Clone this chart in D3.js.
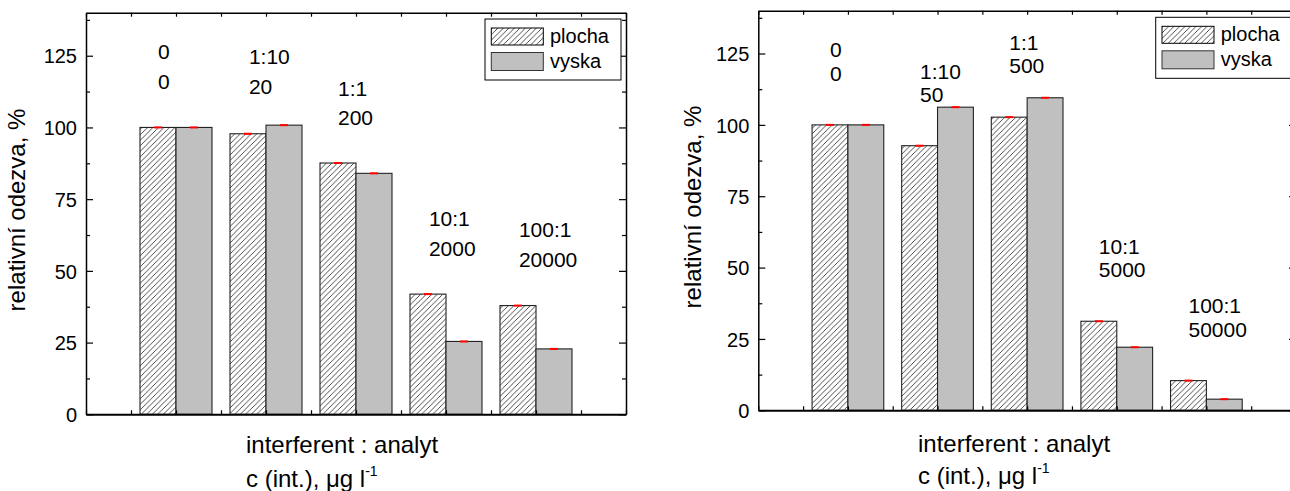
<!DOCTYPE html>
<html><head><meta charset="utf-8">
<script src="https://cdn.jsdelivr.net/npm/d3@7"></script>
<style>body{margin:0;background:#fff}svg{display:block;font-family:Arial,"Liberation Sans",sans-serif}</style>
</head><body><svg id="c" width="1290" height="491"></svg>
<script>
// ---- data ----
const categories = ["0", "1:10", "1:1", "10:1", "100:1"];
const seriesNames = ["plocha", "vyska"];
const concA = ["0", "20", "200", "2000", "20000"];
const plochaA = [100, 97.8, 87.6, 41.9, 37.9];
const vyskaA = [100, 100.8, 84.0, 25.4, 22.8];
const concB = ["0", "50", "500", "5000", "50000"];
const plochaB = [100, 92.7, 102.7, 31.2, 10.4];
const vyskaB = [100, 106.2, 109.5, 22.1, 3.9];
const yTicks = [0, 25, 50, 75, 100, 125];
const yMinorTicks = [12.5, 37.5, 62.5, 87.5, 112.5, 137.5];
const groupPos = [2, 4, 6, 8, 10];
// annotation anchors: [x in axis units, y of first line in %]
const annoA = [[1.6, 123.7], [3.62, 122], [5.6, 111.1], [7.62, 65.5], [9.62, 61.8]];
const annoB = [[1.6, 123.7], [3.61, 116.2], [5.6, 126.3], [7.6, 54.9], [9.6, 34.0]];

const svg = d3.select("#c");
const defs = svg.append("defs");
const P = 5.5;
const pat = defs.append("pattern").attr("id", "hatch").attr("patternUnits", "userSpaceOnUse")
  .attr("width", P).attr("height", P);
pat.append("rect").attr("width", P).attr("height", P).attr("fill", "#fff");
pat.append("path").attr("d", `M0,${P} L${P},0 M${-P/4},${P/4} L${P/4},${-P/4} M${P*3/4},${P*5/4} L${P*5/4},${P*3/4}`)
  .attr("stroke", "#111").attr("stroke-width", 0.75);

function drawChart(cfg) {
  const g = svg.append("g");
  const x = d3.scaleLinear().domain([0, 12]).range([cfg.left, cfg.right]);
  const y = d3.scaleLinear().domain([0, 140]).range([cfg.bottom, cfg.top]);
  const bw = x(0.8) - x(0);

  // bars
  const rows = categories.map((c, i) => ({c, i, p: cfg.plocha[i], v: cfg.vyska[i], pos: groupPos[i]}));
  g.selectAll(".bp").data(rows).join("rect")
    .attr("x", d => x(d.pos - 0.8)).attr("width", bw)
    .attr("y", d => y(d.p)).attr("height", d => y(0) - y(d.p))
    .attr("fill", "url(#hatch)").attr("stroke", "#222").attr("stroke-width", 1.1);
  g.selectAll(".bv").data(rows).join("rect")
    .attr("x", d => x(d.pos)).attr("width", bw)
    .attr("y", d => y(d.v)).attr("height", d => y(0) - y(d.v))
    .attr("fill", "#c0c0c0").attr("stroke", "#222").attr("stroke-width", 1.1);
  // red error caps
  g.selectAll(".ep").data(rows).join("line")
    .attr("x1", d => x(d.pos - 0.4) - 4).attr("x2", d => x(d.pos - 0.4) + 4)
    .attr("y1", d => y(d.p)).attr("y2", d => y(d.p))
    .attr("stroke", "#ff0000").attr("stroke-width", 2);
  g.selectAll(".ev").data(rows).join("line")
    .attr("x1", d => x(d.pos + 0.4) - 4).attr("x2", d => x(d.pos + 0.4) + 4)
    .attr("y1", d => y(d.v)).attr("y2", d => y(d.v))
    .attr("stroke", "#ff0000").attr("stroke-width", 2);

  // axes
  const styleAx = sel => { sel.selectAll("path.domain").attr("stroke", "#000").attr("stroke-width", 1.5);
    sel.selectAll(".tick line").attr("stroke", "#000").attr("stroke-width", 1.2); };
  const left = g.append("g").attr("transform", `translate(${cfg.left},0)`)
    .call(d3.axisLeft(y).tickValues(yTicks).tickSizeInner(-7).tickSizeOuter(0).tickPadding(9));
  left.selectAll("text").attr("font-size", 20).attr("fill", "#000").attr("dy", "0.36em")
    .attr("font-family", "Arial, 'Liberation Sans', sans-serif");
  styleAx(left);
  const leftMin = g.append("g").attr("transform", `translate(${cfg.left},0)`)
    .call(d3.axisLeft(y).tickValues(yMinorTicks).tickSizeInner(-4).tickSizeOuter(0).tickFormat(""));
  styleAx(leftMin); leftMin.select("path.domain").remove();
  const right = g.append("g").attr("transform", `translate(${cfg.right},0)`)
    .call(d3.axisRight(y).tickValues(yTicks).tickSizeInner(-7).tickSizeOuter(0).tickFormat(""));
  styleAx(right);
  const rightMin = g.append("g").attr("transform", `translate(${cfg.right},0)`)
    .call(d3.axisRight(y).tickValues(yMinorTicks).tickSizeInner(-4).tickSizeOuter(0).tickFormat(""));
  styleAx(rightMin); rightMin.select("path.domain").remove();
  const top = g.append("g").attr("transform", `translate(0,${cfg.top})`)
    .call(d3.axisTop(x).tickValues(d3.range(0, 13)).tickSizeInner(-4).tickSizeOuter(0).tickFormat(""));
  styleAx(top);
  const bottom = g.append("g").attr("transform", `translate(0,${cfg.bottom})`)
    .call(d3.axisBottom(x).tickValues(d3.range(0, 13)).tickSizeInner(-4).tickSizeOuter(0).tickFormat(""));
  styleAx(bottom);
  bottom.select("path.domain").attr("stroke-width", 2);

  // annotations
  rows.forEach((d, i) => {
    const [ax, ay] = cfg.anno[i];
    g.append("text").attr("x", x(ax)).attr("y", y(ay)).attr("font-size", 21).text(d.c);
    g.append("text").attr("x", x(ax)).attr("y", y(ay) + cfg.lineGap).attr("font-size", 21).text(cfg.conc[i]);
  });

  // legend
  const lg = g.append("g").attr("transform", `translate(${cfg.legX},${cfg.legY})`);
  lg.append("rect").attr("width", 136).attr("height", 61).attr("fill", "#fff")
    .attr("stroke", "#000").attr("stroke-width", 1);
  lg.append("rect").attr("x", 6.3).attr("y", 9).attr("width", 52).attr("height", 17)
    .attr("fill", "url(#hatch)").attr("stroke", "#000").attr("stroke-width", 1);
  lg.append("rect").attr("x", 6.3).attr("y", 33.5).attr("width", 52).attr("height", 18)
    .attr("fill", "#c0c0c0").attr("stroke", "#333").attr("stroke-width", 1);
  lg.append("text").attr("x", 65).attr("y", 24).attr("font-size", 20).text(seriesNames[0]);
  lg.append("text").attr("x", 65).attr("y", 49).attr("font-size", 20).text(seriesNames[1]);

  // axis titles
  g.append("text").attr("transform", `translate(${cfg.yTitleX},${cfg.yTitleY}) rotate(-90)`)
    .attr("text-anchor", "middle").attr("font-size", 24).text("relativní odezva, %");
  g.append("text").attr("x", cfg.xTitleX).attr("y", cfg.xTitle1Y).attr("font-size", 24)
    .text("interferent : analyt");
  const t2 = g.append("text").attr("x", cfg.xTitleX).attr("y", cfg.xTitle2Y).attr("font-size", 24);
  t2.append("tspan").text("c (int.), μg l");
  t2.append("tspan").attr("font-size", 14).attr("dy", -11).text("-1");
}

drawChart({left: 86, top: 12.7, right: 626, bottom: 414.3, plocha: plochaA, vyska: vyskaA,
  conc: concA, anno: annoA, lineGap: 29.7, legX: 485, legY: 19,
  yTitleX: 25, yTitleY: 210, xTitleX: 246, xTitle1Y: 453, xTitle2Y: 487});
drawChart({left: 758.3, top: 10.7, right: 1296, bottom: 410.3, plocha: plochaB, vyska: vyskaB,
  conc: concB, anno: annoB, lineGap: 23.3, legX: 1155.7, legY: 17.3,
  yTitleX: 701, yTitleY: 207, xTitleX: 918, xTitle1Y: 451.5, xTitle2Y: 483.5});
</script></body></html>
